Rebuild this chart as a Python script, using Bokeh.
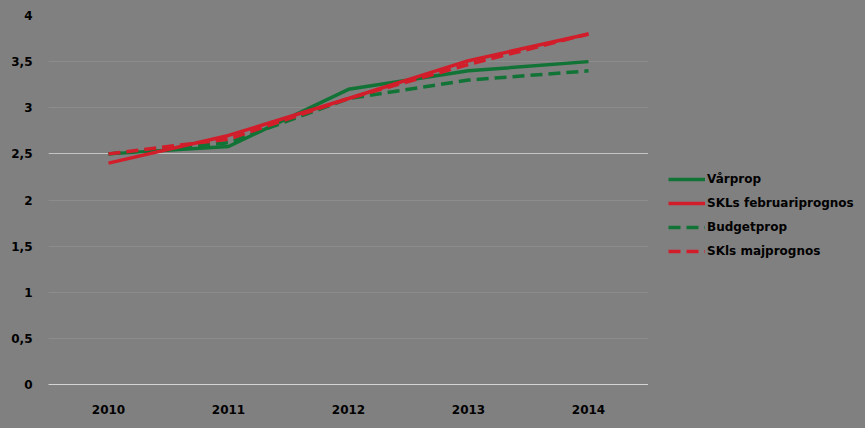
from bokeh.plotting import figure
from bokeh.layouts import row
from bokeh.models import Legend, LegendItem, FactorRange, Range1d, FixedTicker, CustomJSTickFormatter, Grid
from bokeh.embed import file_html
from bokeh.resources import INLINE

years = ["2010", "2011", "2012", "2013", "2014"]
varprop = [2.5, 2.58, 3.2, 3.4, 3.5]
skl_feb = [2.4, 2.7, 3.1, 3.51, 3.8]
budgetprop = [2.5, 2.62, 3.1, 3.3, 3.4]
skl_maj = [2.5, 2.66, 3.1, 3.47, 3.8]
y_ticks = [0, 0.5, 1, 1.5, 2, 2.5, 3, 3.5, 4]
highlight_tick = [2.5]
series_names = ["Vårprop", "SKLs februariprognos", "Budgetprop", "SKls majprognos"]

BG = "#808080"
GREEN = "#117335"
RED = "#d21d2b"

p = figure(width=648, height=428, x_range=FactorRange(*years, range_padding=0),
           y_range=Range1d(0, 4), output_backend="svg", toolbar_location=None,
           min_border_left=48, min_border_right=0, min_border_top=15, min_border_bottom=44)
p.background_fill_color = BG
p.border_fill_color = BG
p.outline_line_color = None

# axes
p.yaxis.ticker = FixedTicker(ticks=y_ticks)
p.yaxis.formatter = CustomJSTickFormatter(code="return tick.toString().replace('.', ',');")
p.yaxis.axis_line_color = None
p.yaxis.major_tick_line_color = None
p.yaxis.minor_tick_line_color = None
p.yaxis.major_label_standoff = 10
p.yaxis.major_label_text_font = "DejaVu Sans"
p.yaxis.major_label_text_font_style = "bold"
p.yaxis.major_label_text_font_size = "12px"
p.yaxis.major_label_text_color = "#000000"

p.xaxis.axis_line_color = "#d4d4d4"
p.xaxis.axis_line_width = 1.2
p.xaxis.major_tick_line_color = None
p.xaxis.minor_tick_line_color = None
p.xaxis.major_label_standoff = 14
p.xaxis.major_label_text_font = "DejaVu Sans"
p.xaxis.major_label_text_font_style = "bold"
p.xaxis.major_label_text_font_size = "12px"
p.xaxis.major_label_text_color = "#000000"

p.xgrid.grid_line_color = None
p.ygrid.grid_line_color = "#8c8c8c"
p.ygrid.grid_line_width = 1
p.ygrid.ticker = FixedTicker(ticks=y_ticks)
p.add_layout(Grid(dimension=1, ticker=FixedTicker(ticks=highlight_tick),
                  grid_line_color="#c4c4c4", grid_line_width=1))

p.line(years, varprop, line_color=GREEN, line_width=3.5)
p.line(years, budgetprop, line_color=GREEN, line_width=3.5, line_dash="12 6")
p.line(years, skl_feb, line_color=RED, line_width=3.5)
p.line(years, skl_maj, line_color=RED, line_width=3.5, line_dash="12 6")

# legend panel (separate figure to the right)
lg = figure(width=217, height=428, x_range=Range1d(0, 1), y_range=Range1d(0, 1),
            output_backend="svg", toolbar_location=None, x_axis_type=None, y_axis_type=None,
            min_border=0)
lg.background_fill_color = BG
lg.border_fill_color = BG
lg.outline_line_color = None
lg.grid.visible = False
styles = [(GREEN, "solid"), (RED, "solid"), (GREEN, "12 6"), (RED, "12 6")]
nan = float("nan")
items = []
for name, (col, dash) in zip(series_names, styles):
    r = lg.line([nan], [nan], line_color=col, line_width=3.5, line_dash=dash)
    items.append(LegendItem(label=name, renderers=[r]))

legend = Legend(items=items, location=(20, 123))
legend.background_fill_alpha = 0
legend.border_line_color = None
legend.margin = 0
legend.padding = 0
legend.spacing = 4
legend.glyph_width = 37
legend.glyph_height = 20
legend.label_height = 20
legend.label_standoff = 2
legend.label_text_font = "DejaVu Sans"
legend.label_text_font_style = "bold"
legend.label_text_font_size = "12px"
legend.label_text_color = "#000000"
lg.add_layout(legend, "center")

layout = row(p, lg, spacing=0)
html = file_html(layout, INLINE)
html = html.replace("</head>", "<style>html,body{background:#808080;}</style></head>", 1)
open("out.html", "w").write(html)
